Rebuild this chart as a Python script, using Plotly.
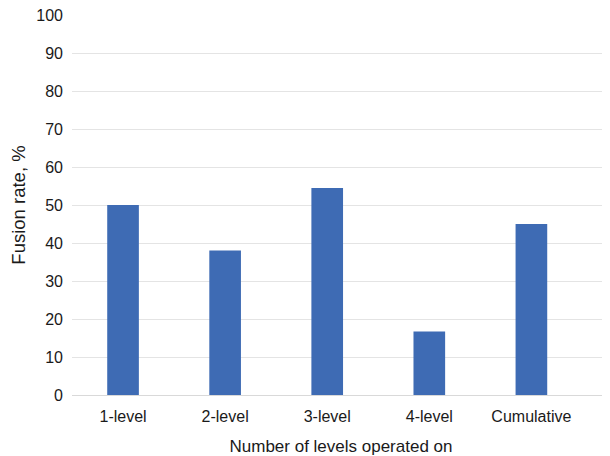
import plotly.graph_objects as go

categories = ["1-level", "2-level", "3-level", "4-level", "Cumulative"]
fusion_rate = [50.0, 38.0, 54.5, 16.7, 45.0]
y_ticks = [0, 10, 20, 30, 40, 50, 60, 70, 80, 90, 100]

fig = go.Figure(go.Bar(x=categories, y=fusion_rate, marker=dict(color="#3E6BB4", line=dict(width=0)),
                       width=0.31))

font = "Liberation Sans, Arial, Helvetica, sans-serif"
fig.update_layout(
    width=610, height=456,
    margin=dict(l=64, r=8, t=7, b=69),
    paper_bgcolor="white", plot_bgcolor="white",
    font=dict(family=font, size=16, color="#1a1a1a"),
    showlegend=False,
    xaxis=dict(range=[-0.5, 4.77], showgrid=False, showline=False, zeroline=False, automargin=False,
               ticks="", ticklabelstandoff=10, tickfont=dict(size=16),
               title=dict(text="Number of levels operated on", font=dict(size=17), standoff=16)),
    yaxis=dict(range=[0, 100], tickvals=y_ticks, showgrid=True, gridcolor="#E4E4E4", gridwidth=1,
               zeroline=True, zerolinecolor="#D9D9D9", zerolinewidth=1, showline=False, automargin=False,
               ticks="", ticklabelstandoff=8, tickfont=dict(size=16), ticklabeloverflow="allow",
               title=dict(text="Fusion rate, %", font=dict(size=18.5), standoff=18)),
)
fig.write_html("out.html")
